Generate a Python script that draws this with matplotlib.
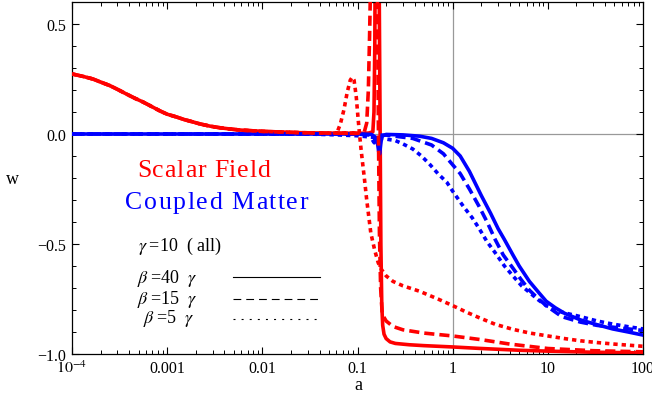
import matplotlib
matplotlib.use("Agg")
import matplotlib.pyplot as plt
from matplotlib.ticker import FixedLocator, LogLocator, MultipleLocator, NullFormatter

plt.rcParams['font.family'] = ['Liberation Serif', 'DejaVu Serif']
plt.rcParams['mathtext.fontset'] = 'stix'

# shared early part of the scalar field curves
a_hump = [1e-4, 1.3e-4, 1.66e-4, 2e-4, 2.5e-4, 3e-4, 3.8e-4, 4.6e-4, 5.6e-4, 7e-4, 8.4e-4,
          1e-3, 1.26e-3, 1.5e-3, 1.86e-3, 2.2e-3, 2.8e-3, 3.5e-3, 4.5e-3, 5.8e-3, 0.01, 0.025, 0.05, 0.1]
w_hump = [0.273, 0.262, 0.25, 0.236, 0.22, 0.203, 0.18, 0.162, 0.145, 0.123, 0.105,
          0.09, 0.077, 0.066, 0.055, 0.046, 0.036, 0.029, 0.023, 0.018, 0.012, 0.006, 0.004, 0.003]

# scalar field, beta = 40 gamma
a_sf40 = [0.13, 0.145, 0.149, 0.152, 0.155, 0.166, 0.170, 0.173, 0.176, 0.18, 0.184,
          0.19, 0.2, 0.22, 0.25, 0.35, 0.5, 1, 2, 5, 10, 30, 100]
w_sf40 = [0.004, 0.01, 0.1, 0.4, 1.2, 1.2, 0.5, 0.0, -0.5, -0.78, -0.87,
          -0.91, -0.93, -0.945, -0.952, -0.958, -0.962, -0.968, -0.975, -0.983, -0.987, -0.992, -0.995]

# scalar field, beta = 15 gamma
a_sf15 = [0.118, 0.125, 0.13, 0.134, 0.138, 0.142, 0.158, 0.162, 0.166, 0.17, 0.175,
          0.182, 0.2, 0.236, 0.3, 0.5, 1, 2, 4, 10, 30, 100]
w_sf15 = [0.01, 0.05, 0.2, 0.45, 0.75, 1.2, 1.2, 0.6, 0.0, -0.45, -0.7,
          -0.82, -0.85, -0.875, -0.89, -0.905, -0.918, -0.935, -0.955, -0.975, -0.985, -0.99]

# scalar field, beta = 5 gamma
a_sf5 = [0.057, 0.062, 0.066, 0.072, 0.078, 0.084, 0.088, 0.092, 0.097, 0.101, 0.105,
         0.109, 0.113, 0.118, 0.125, 0.138, 0.152, 0.165, 0.178, 0.2, 0.236, 0.3, 0.45,
         0.7, 1, 1.4, 1.9, 2.8, 4.3, 6.5, 10, 15, 22, 33, 50, 100]
w_sf5 = [0.004, 0.015, 0.045, 0.11, 0.19, 0.245, 0.258, 0.245, 0.17, 0.08, 0.0,
         -0.07, -0.13, -0.2, -0.3, -0.45, -0.53, -0.585, -0.615, -0.645, -0.67, -0.69, -0.715,
         -0.75, -0.78, -0.81, -0.835, -0.865, -0.888, -0.905, -0.918, -0.93, -0.94, -0.948, -0.955, -0.965]

# coupled matter, beta = 40 gamma
a_cm40 = [1e-4, 0.1, 0.14, 0.155, 0.162, 0.167, 0.171, 0.175, 0.18, 0.2, 0.3, 0.45, 0.6,
          0.8, 1, 1.2, 1.5, 2, 2.5, 3, 3.5, 4.3, 5, 6.4, 8, 9.6, 12, 15, 22, 33, 48, 70, 100]
w_cm40 = [0, 0, -0.002, -0.015, -0.04, -0.08, -0.09, -0.05, -0.01, -0.002, -0.004, -0.01, -0.02,
          -0.04, -0.065, -0.10, -0.17, -0.28, -0.36, -0.43, -0.48, -0.55, -0.60, -0.67, -0.72,
          -0.76, -0.79, -0.815, -0.845, -0.867, -0.886, -0.90, -0.914]

# coupled matter, beta = 15 gamma
a_cm15 = [1e-4, 0.1, 0.135, 0.145, 0.15, 0.155, 0.16, 0.2, 0.38, 0.6, 0.8, 1, 1.2, 1.5,
          1.9, 2.3, 2.8, 3.4, 4.3, 5.2, 6.4, 8, 9.6, 14, 22, 33, 48, 70, 100]
w_cm15 = [0, 0, -0.005, -0.03, -0.04, -0.02, -0.005, -0.005, -0.02, -0.05, -0.09, -0.14, -0.18, -0.25,
          -0.33, -0.40, -0.48, -0.55, -0.61, -0.66, -0.71, -0.75, -0.78, -0.83, -0.855, -0.87,
          -0.878, -0.886, -0.893]

# coupled matter, beta = 5 gamma
a_cm5 = [1e-4, 0.03, 0.06, 0.1, 0.17, 0.25, 0.3, 0.38, 0.47, 0.58, 0.7, 0.87, 1, 1.3, 1.6,
         1.9, 2.3, 2.8, 3.5, 4.3, 5.3, 6.4, 8, 9.6, 14, 22, 33, 48, 70, 100]
w_cm5 = [0, 0, -0.004, -0.008, -0.018, -0.03, -0.045, -0.068, -0.10, -0.14, -0.18, -0.22, -0.26,
         -0.33, -0.38, -0.43, -0.49, -0.54, -0.60, -0.645, -0.69, -0.72, -0.755, -0.78, -0.81,
         -0.83, -0.85, -0.864, -0.876, -0.886]

x_ticks = [1e-4, 1e-3, 1e-2, 1e-1, 1, 10, 100]
x_labels = [r'$10^{-4}$', '0.001', '0.01', '0.1', '1', '10', '100']
y_ticks = [-1.0, -0.5, 0.0, 0.5]
y_labels = ['\u22121.0', '\u22120.5', '0.0', '0.5']

W, H = 652, 402
fig = plt.figure(figsize=(W / 100, H / 100), dpi=100)
ax = fig.add_axes([72 / W, 47 / H, 571 / W, 352 / H])

ax.axhline(0, color='#999999', lw=0.9, zorder=1)
ax.axvline(1, color='#999999', lw=0.9, zorder=1)

lw = 2.6
dash = (0, (2.8, 1.4))
dot = (0, (1.2, 1.1))

ax.plot(a_hump + a_sf40, w_hump + w_sf40, color='red', lw=lw, zorder=2)
ax.plot(a_cm40, w_cm40, color='blue', lw=lw, zorder=3)
ax.plot(a_cm15, w_cm15, color='blue', lw=lw, ls=dash, zorder=3)
ax.plot(a_cm5, w_cm5, color='blue', lw=lw, ls=dot, zorder=3)
ax.plot(a_hump + a_sf15, w_hump + w_sf15, color='red', lw=lw, ls=dash, zorder=4)
ax.plot(a_hump + a_sf5, w_hump + w_sf5, color='red', lw=lw, ls=dot, zorder=4)

ax.set_xscale('log')
ax.set_xlim(1e-4, 100)
ax.set_ylim(-1.0, 0.6)

ax.xaxis.set_major_locator(FixedLocator(x_ticks))
ax.set_xticklabels(x_labels)
ax.xaxis.set_minor_locator(LogLocator(base=10, subs=range(2, 10), numticks=20))
ax.xaxis.set_minor_formatter(NullFormatter())
ax.set_yticks(y_ticks)
ax.set_yticklabels(y_labels)
ax.yaxis.set_minor_locator(MultipleLocator(0.1))

ax.tick_params(which='both', direction='in', top=True, right=True, labelsize=11.5, pad=4)
ax.tick_params(which='major', length=5, width=0.8)
ax.tick_params(which='minor', length=3, width=0.7)
for s in ax.spines.values():
    s.set_linewidth(0.9)

fig.text(358 / W, 1 - 386 / H, 'a', ha='center', va='center', fontsize=13)
fig.text(12 / W, 1 - 180 / H, 'w', ha='center', va='center', fontsize=13)


# letter-spaced text between two pixel x positions (baseline at y px)
def spaced_text(x0, x1, y, s, **kw):
    r = fig.canvas.get_renderer()

    def width(t):
        tt = fig.text(0, 0, t, **kw)
        w = tt.get_window_extent(r).width
        tt.remove()
        return w

    extra = (x1 - x0 - width(s)) / (len(s) - 1)
    for i, ch in enumerate(s):
        if ch == ' ':
            continue
        fig.text((x0 + width(s[:i + 1]) + i * extra) / W, 1 - y / H, ch,
                 ha='right', va='baseline', **kw)


spaced_text(137, 270, 177, 'Scalar Field', color='red', fontsize=18.5)
spaced_text(125, 308, 209, 'Coupled Matter', color='blue', fontsize=18.5)

fig.text(138 / W, 1 - 251 / H, r'$\gamma\;$=10  ( all)', fontsize=13, va='baseline')
leg_labels = [r'$\beta\;$=40  $\gamma$', r'$\beta\;$=15  $\gamma$', r'$\beta\;$=5  $\gamma$']
leg_x = [137, 137, 143]
leg_base = [283, 304, 323]
leg_line = [278, 300, 320]
leg_styles = ['-', (0, (7, 4.5)), (0, (1.8, 5.5))]
for lab, lx, lb, ly, st in zip(leg_labels, leg_x, leg_base, leg_line, leg_styles):
    fig.text(lx / W, 1 - lb / H, lab, fontsize=13, va='baseline')
    fig.add_artist(plt.Line2D([233 / W, 320 / W], [1 - ly / H, 1 - ly / H],
                              color='black', lw=0.8, ls=st))

fig.savefig('out.png', dpi=100)
